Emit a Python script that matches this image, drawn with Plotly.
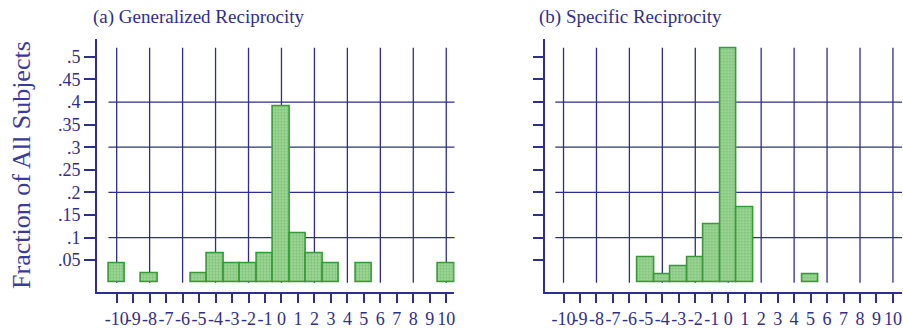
import plotly.graph_objects as go

# ---- data ----
x_vals_a = [-10, -8, -5, -4, -3, -2, -1, 0, 1, 2, 3, 5, 10]
frac_a = [0.0435, 0.0217, 0.0217, 0.0652, 0.0435, 0.0435, 0.0652, 0.3913, 0.1087, 0.0652, 0.0435, 0.0435, 0.0435]
x_vals_b = [-5, -4, -3, -2, -1, 0, 1, 5]
frac_b = [0.0556, 0.0185, 0.0370, 0.0556, 0.1296, 0.5185, 0.1667, 0.0185]
x_ticks = list(range(-10, 11))
x_tick_labels = [str(v) for v in x_ticks]
y_ticks = [0.05, 0.1, 0.15, 0.2, 0.25, 0.3, 0.35, 0.4, 0.45, 0.5]
y_tick_labels = [".05", ".1", ".15", ".2", ".25", ".3", ".35", ".4", ".45", ".5"]
grid_y = [0.1, 0.2, 0.3, 0.4]
grid_x = list(range(-10, 11, 2))
titles = ["(a) Generalized Reciprocity", "(b) Specific Reciprocity"]
y_title = "Fraction of All Subjects"

W, H = 903, 329
NAVY = "#2e2e8c"
TEXT = "#2f2f8a"
FONT = "Liberation Serif"

fig = go.Figure()

bar_style = dict(
    width=1.0,
    marker=dict(
        color="#acdca4",
        line=dict(color="#379a37", width=1.6),
        pattern=dict(shape=".", size=3, solidity=0.5, fgcolor="#45a845", fillmode="overlay"),
    ),
    showlegend=False,
    hoverinfo="x+y",
)
fig.add_trace(go.Bar(x=x_vals_a, y=frac_a, xaxis="x", yaxis="y", **bar_style))
fig.add_trace(go.Bar(x=x_vals_b, y=frac_b, xaxis="x2", yaxis="y2", **bar_style))

ydom = [1 - 297 / H, 1 - 40 / H]
yrange = [-0.0196, 0.539]

def xaxis(domain, rng, anchor):
    return dict(
        domain=domain, range=rng, anchor=anchor, showgrid=False, zeroline=False,
        showline=True, linecolor=NAVY, linewidth=1.6,
        ticks="outside", ticklen=10, tickwidth=1.6, tickcolor=NAVY,
        tickmode="array", tickvals=x_ticks, ticktext=x_tick_labels,
        tickangle=0, tickfont=dict(family=FONT, size=18, color=TEXT),
        fixedrange=True,
    )

def yaxis(anchor, labels):
    return dict(
        domain=ydom, range=yrange, anchor=anchor, showgrid=False, zeroline=False,
        showline=True, linecolor=NAVY, linewidth=1.6,
        ticks="outside", ticklen=11, tickwidth=1.6, tickcolor=NAVY,
        tickmode="array", tickvals=y_ticks, ticktext=y_tick_labels,
        showticklabels=labels, tickfont=dict(family=FONT, size=18, color=TEXT),
        fixedrange=True,
    )

shapes = []
for xr, yr in (("x", "y"), ("x2", "y2")):
    for gy in grid_y:
        shapes.append(dict(type="line", xref=xr, yref=yr, x0=-10.5, x1=10.55, y0=gy, y1=gy,
                           line=dict(color=NAVY, width=1.3), layer="below"))
    for gx in grid_x:
        shapes.append(dict(type="line", xref=xr, yref=yr, x0=gx, x1=gx, y0=0, y1=0.52,
                           line=dict(color=NAVY, width=1.3), layer="below"))

annotations = [
    dict(text=titles[0], x=91 / W, y=1 - 17 / H, xref="paper", yref="paper",
         xanchor="left", yanchor="middle", showarrow=False,
         font=dict(family=FONT, size=19, color=TEXT)),
    dict(text=titles[1], x=538 / W, y=1 - 17 / H, xref="paper", yref="paper",
         xanchor="left", yanchor="middle", showarrow=False,
         font=dict(family=FONT, size=19, color=TEXT)),
    dict(text=y_title, x=22 / W, y=1 - 168 / H, xref="paper", yref="paper",
         xanchor="center", yanchor="middle", textangle=-90, showarrow=False,
         font=dict(family=FONT, size=26, color="#3a3a9c")),
]

fig.update_layout(
    width=W, height=H,
    margin=dict(l=0, r=0, t=0, b=0),
    paper_bgcolor="white", plot_bgcolor="white",
    xaxis=xaxis([97 / W, 455 / W], [-11.2, 10.5], "y"),
    yaxis=yaxis("x", True),
    xaxis2=xaxis([546 / W, 1.0], [-11.1, 10.55], "y2"),
    yaxis2=yaxis("x2", False),
    shapes=shapes,
    annotations=annotations,
    bargap=0,
)

fig.write_html("out.html")
